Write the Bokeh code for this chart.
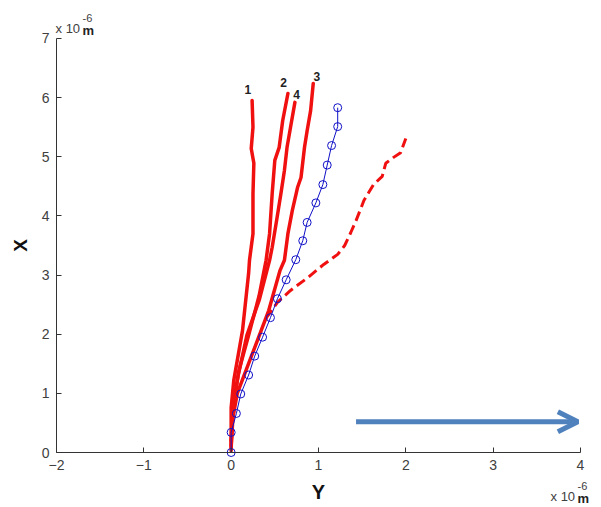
import math
from bokeh.plotting import figure
from bokeh.models import Range1d, Label, Arrow, OpenHead, FixedTicker
from bokeh.core.properties import value
from bokeh.embed import file_html
from bokeh.resources import INLINE

# ---- data (units: x 10^-6 m) ----
blue_y = [0.00, 0.00, 0.06, 0.11, 0.20, 0.27, 0.36, 0.45, 0.53, 0.63, 0.74, 0.82,
          0.87, 0.97, 1.05, 1.10, 1.15, 1.22, 1.22]
blue_x = [0.00, 0.34, 0.66, 0.99, 1.31, 1.63, 1.95, 2.28, 2.60, 2.92, 3.26, 3.58,
          3.89, 4.22, 4.53, 4.86, 5.19, 5.51, 5.83]

dash_y = [0.40, 0.53, 0.68, 0.88, 1.06, 1.22, 1.30, 1.37, 1.43, 1.52, 1.63, 1.73,
          1.77, 1.86, 1.94, 2.00]
dash_x = [2.27, 2.54, 2.74, 2.96, 3.18, 3.35, 3.50, 3.72, 3.92, 4.26, 4.53, 4.67,
          4.89, 4.99, 5.07, 5.31]

line1_y = [0.00, 0.00, 0.03, 0.13, 0.20, 0.21, 0.25, 0.25, 0.26, 0.23, 0.25, 0.24]
line1_x = [0.03, 0.76, 1.22, 2.06, 3.03, 3.25, 3.70, 4.38, 4.89, 5.14, 5.50, 5.95]

line2_y = [0.00, 0.03, 0.09, 0.20, 0.32, 0.40, 0.44, 0.47, 0.50, 0.55, 0.59, 0.65]
line2_x = [0.20, 0.88, 1.39, 1.98, 2.65, 3.25, 3.70, 4.38, 4.94, 5.16, 5.61, 6.07]

line3_y = [0.00, 0.02, 0.07, 0.17, 0.30, 0.43, 0.56, 0.61, 0.65, 0.70, 0.76, 0.80,
           0.84, 0.87, 0.91, 0.94]
line3_x = [0.08, 0.59, 1.00, 1.39, 1.89, 2.40, 3.08, 3.25, 3.70, 4.09, 4.48, 4.65,
           5.16, 5.44, 5.78, 6.24]

line4_y = [0.00, 0.02, 0.08, 0.18, 0.32, 0.44, 0.47, 0.52, 0.57, 0.61, 0.64, 0.68, 0.73]
line4_x = [0.12, 0.71, 1.30, 1.98, 2.57, 3.25, 3.47, 3.92, 4.38, 4.77, 5.16, 5.50, 5.92]

curve_labels = ["1", "2", "4", "3"]
x_ticks = [-2, -1, 0, 1, 2, 3, 4]
y_ticks = [0, 1, 2, 3, 4, 5, 6, 7]

FONT = "Liberation Sans"
RED = "#f01010"
BLUE = "#1010c8"
TICK_COLOR = "#404040"

W, H = 593, 505
# frame fills the canvas; axes are pinned at x=-2 / y=0 with fixed_location
p = figure(width=W, height=H,
           x_range=Range1d(-2.641, 4.149), y_range=Range1d(-0.896, 7.6425),
           output_backend="svg", toolbar_location=None,
           min_border_left=0, min_border_right=0,
           min_border_top=0, min_border_bottom=0)
p.outline_line_color = None
p.xgrid.visible = False
p.ygrid.visible = False
p.background_fill_color = "white"
p.border_fill_color = "white"

for ax, ticks in ((p.xaxis, x_ticks), (p.yaxis, y_ticks)):
    ax.ticker = FixedTicker(ticks=ticks)
    ax.bounds = (ticks[0], ticks[-1])
    ax.minor_tick_line_color = None
    ax.major_tick_in = 5
    ax.major_tick_out = 0
    ax.axis_line_color = "#333333"
    ax.major_tick_line_color = "#333333"
    ax.major_label_text_font = FONT
    ax.major_label_text_font_size = "14px"
    ax.major_label_text_color = TICK_COLOR
    ax.axis_label_text_font = FONT
    ax.axis_label_text_font_style = "bold"
    ax.axis_label_text_color = "#111111"
    ax.axis_label_standoff = 8
p.xaxis.fixed_location = y_ticks[0]
p.yaxis.fixed_location = x_ticks[0]
p.xaxis.major_label_standoff = 7
p.yaxis.major_label_standoff = 7
p.yaxis.axis_label = "X"
p.yaxis.axis_label_text_font_size = "19px"
p.xaxis.axis_label = "Y"
p.xaxis.axis_label_text_font_size = "20px"

# red trajectories
for xs, ys in ((line1_y, line1_x), (line2_y, line2_x), (line3_y, line3_x), (line4_y, line4_x)):
    p.line(xs, ys, line_color=RED, line_width=3.5, line_join="round", line_cap="round")
p.line(dash_y, dash_x, line_color=RED, line_width=3, line_dash="10 5")

# blue model
p.line(blue_y, blue_x, line_color=BLUE, line_width=1)
p.scatter(blue_y, blue_x, marker="circle", size=8, fill_color=None,
          line_color=BLUE, line_width=1)

# curve labels
p.text(x=[0.19, 0.60, 0.75, 0.98], y=[6.14, 6.25, 6.05, 6.36], text=curve_labels,
       text_font=value(FONT), text_font_style="bold", text_font_size="12px",
       text_color="#222222", text_align="center", text_baseline="middle")

# arrow
p.add_layout(Arrow(end=OpenHead(size=20, line_width=5, line_color="#4f81bd"),
                   x_start=1.43, y_start=0.52, x_end=3.97, y_end=0.52,
                   line_width=5, line_color="#4f81bd"))

# exponent labels "x 10^-6 m"
def exponent(x0, y0):
    p.add_layout(Label(x=x0, y=y0, text="x 10", text_font=FONT, text_font_size="13px",
                       text_color=TICK_COLOR, text_baseline="alphabetic"))
    p.add_layout(Label(x=x0 + 0.309, y=y0 + 0.186, text="-6", text_font=FONT,
                       text_font_size="11px", text_color=TICK_COLOR,
                       text_baseline="alphabetic"))
    p.add_layout(Label(x=x0 + 0.309, y=y0 - 0.034, text="m", text_font=FONT,
                       text_font_style="bold", text_font_size="13px",
                       text_color="#222222", text_baseline="alphabetic"))

exponent(-2.011, 7.169)
exponent(3.657, -0.745)

open("out.html", "w").write(file_html(p, INLINE))
